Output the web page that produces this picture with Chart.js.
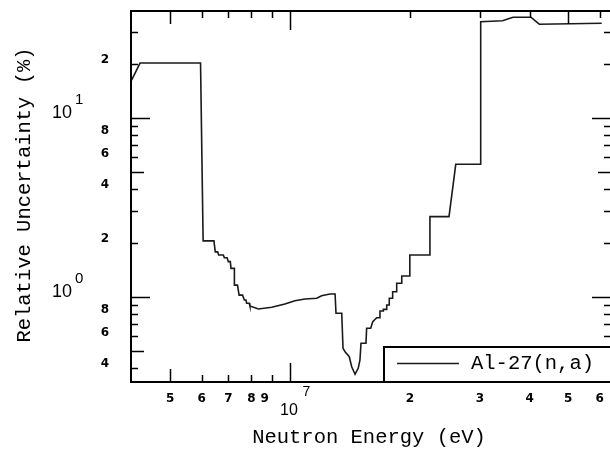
<!DOCTYPE html>
<html>
<head>
<meta charset="utf-8">
<script src="https://cdn.jsdelivr.net/npm/chart.js@4.4.0/dist/chart.umd.min.js"></script>
<style>
  html, body { margin: 0; padding: 0; background: #fff; overflow: hidden; }
  #wrap { width: 620px; height: 450px; }
</style>
</head>
<body>
<div id="wrap"><canvas id="chart" width="620" height="450"></canvas></div>
<script>
// Al-27(n,a) relative uncertainty
const seriesLabel = "Al-27(n,a)";
const energy = [
  4.0e6, 4.2e6, 5.96e6, 6.05e6, 6.44e6, 6.49e6, 6.58e6, 6.62e6, 6.8e6, 6.84e6,
  6.95e6, 7.0e6, 7.08e6, 7.11e6, 7.25e6, 7.25e6, 7.38e6, 7.45e6, 7.6e6, 7.68e6,
  7.75e6, 7.78e6, 7.9e6, 7.93e6, 8.33e6, 9.0e6, 9.71e6, 1.029e7, 1.091e7, 1.167e7,
  1.201e7, 1.26e7, 1.298e7, 1.305e7, 1.349e7, 1.359e7, 1.375e7, 1.409e7, 1.429e7, 1.457e7,
  1.484e7, 1.499e7, 1.508e7, 1.552e7, 1.558e7, 1.595e7, 1.614e7, 1.652e7, 1.683e7, 1.683e7,
  1.716e7, 1.716e7, 1.75e7, 1.75e7, 1.776e7, 1.776e7, 1.811e7, 1.811e7, 1.854e7, 1.854e7,
  1.909e7, 1.909e7, 2.0e7, 2.0e7, 2.247e7, 2.247e7, 2.509e7, 2.609e7, 3.014e7, 3.014e7,
  3.42e7, 3.633e7, 4.03e7, 4.23e7, 6.07e7
];
const uncertainty = [
  16.2, 20.2, 20.2, 2.05, 2.05, 1.78, 1.78, 1.71, 1.71, 1.65,
  1.65, 1.57, 1.57, 1.44, 1.44, 1.16, 1.16, 1.02, 1.02, 0.958,
  0.958, 0.919, 0.919, 0.887, 0.854, 0.873, 0.910, 0.950, 0.971, 0.980,
  1.013, 1.035, 1.035, 0.808, 0.808, 0.515, 0.493, 0.462, 0.406, 0.369,
  0.398, 0.443, 0.549, 0.549, 0.666, 0.666, 0.725, 0.763, 0.763, 0.832,
  0.832, 0.850, 0.850, 0.899, 0.899, 0.980, 0.980, 1.066, 1.066, 1.188,
  1.188, 1.305, 1.305, 1.71, 1.71, 2.80, 2.80, 5.49, 5.49, 34.4,
  34.8, 36.4, 36.4, 33.3, 33.7
];

const xTicks = [5e6, 6e6, 7e6, 8e6, 9e6, 1e7, 2e7, 3e7, 4e7, 5e7, 6e7];
const xTickLabels = ["5", "6", "7", "8", "9", "10^7", "2", "3", "4", "5", "6"];
const yTicks = [0.4, 0.5, 0.6, 0.7, 0.8, 0.9, 1, 2, 3, 4, 5, 6, 7, 8, 9, 10, 20, 30];
const yTickLabels = ["4", "", "6", "", "8", "", "10^0", "2", "", "4", "", "6", "", "8", "", "10^1", "2", ""];

const xMin = 3.986e6, xMax = 6.405e7;
const yMin = 0.3338, yMax = 39.45;

const TITLE_FONT = "20.5px 'Liberation Mono', monospace";
const DIGIT_FONT = "bold 12px 'DejaVu Sans', sans-serif";

function tickLen(v) {
  const m = Math.round(v / Math.pow(10, Math.floor(Math.log10(v) + 1e-9)));
  return m === 1 ? 19 : (m === 5 ? 13 : 7);
}

const framePlugin = {
  id: "frame",
  afterDatasetsDraw(chart) {
    const { ctx, chartArea: a, scales: { x, y } } = chart;
    ctx.save();
    ctx.strokeStyle = "#000";
    ctx.fillStyle = "#000";

    // ticks on all four sides, pointing inwards
    ctx.lineWidth = 1.5;
    ctx.beginPath();
    xTicks.forEach((v) => {
      const px = Math.round(x.getPixelForValue(v)) + 0.5;
      const len = tickLen(v);
      ctx.moveTo(px, a.bottom); ctx.lineTo(px, a.bottom - len);
      ctx.moveTo(px, a.top); ctx.lineTo(px, a.top + len);
    });
    yTicks.forEach((v) => {
      const py = Math.round(y.getPixelForValue(v)) + 0.5;
      const len = tickLen(v);
      ctx.moveTo(a.left, py); ctx.lineTo(a.left + len, py);
      ctx.moveTo(a.right, py); ctx.lineTo(a.right - len, py);
    });
    ctx.stroke();

    // legend box
    const ds = chart.data.datasets[0];
    ctx.fillStyle = "#fff";
    ctx.fillRect(384, 347, 240, a.bottom - 347);
    ctx.lineWidth = 2;
    ctx.strokeRect(384, 347, 240, a.bottom - 347);
    ctx.lineWidth = 1.6;
    ctx.strokeStyle = ds.borderColor;
    ctx.beginPath();
    ctx.moveTo(397, 363.5); ctx.lineTo(459, 363.5);
    ctx.stroke();
    ctx.fillStyle = "#000";
    ctx.font = TITLE_FONT;
    ctx.textAlign = "left";
    ctx.textBaseline = "middle";
    ctx.fillText(ds.label, 471, 364);

    // frame
    ctx.strokeStyle = "#000";
    ctx.lineWidth = 2;
    ctx.strokeRect(a.left, a.top, a.right - a.left, a.bottom - a.top);

    // x tick labels
    xTickLabels.forEach((lab, i) => {
      if (!lab) return;
      const px = x.getPixelForValue(xTicks[i]);
      if (lab.includes("^")) {
        const [base, exp] = lab.split("^");
        ctx.textAlign = "center";
        ctx.font = "16px 'Liberation Sans', Arial, sans-serif";
        ctx.fillText(base, px - 1, 411);
        ctx.font = "14px 'Liberation Sans', Arial, sans-serif";
        ctx.fillText(exp, px + 16.5, 392);
      } else {
        ctx.textAlign = "center";
        ctx.font = DIGIT_FONT;
        const nudge = (xTicks[i + 1] === 1e7) ? -7 : 0;
        ctx.fillText(lab, px + nudge, 399);
      }
    });

    // y tick labels
    yTickLabels.forEach((lab, i) => {
      if (!lab) return;
      const py = y.getPixelForValue(yTicks[i]);
      if (lab.includes("^")) {
        const [base, exp] = lab.split("^");
        ctx.textAlign = "right";
        ctx.font = "18px 'Liberation Sans', Arial, sans-serif";
        ctx.fillText(base, 72, py - 5);
        ctx.textAlign = "left";
        ctx.font = "15px 'Liberation Sans', Arial, sans-serif";
        ctx.fillText(exp, 75, py - 17.5);
      } else {
        ctx.textAlign = "right";
        ctx.font = DIGIT_FONT;
        ctx.fillText(lab, 109, py - 4);
      }
    });

    // axis titles
    ctx.font = TITLE_FONT;
    ctx.textAlign = "center";
    ctx.fillText("Neutron Energy (eV)", 369, 438);
    ctx.save();
    ctx.translate(25, 195);
    ctx.rotate(-Math.PI / 2);
    ctx.fillText("Relative Uncertainty (%)", 0, 0);
    ctx.restore();

    ctx.restore();
  }
};

new Chart(document.getElementById("chart"), {
  type: "line",
  data: {
    datasets: [{
      label: seriesLabel,
      data: energy.map((e, i) => ({ x: e, y: uncertainty[i] })),
      borderColor: "#1a1a1a",
      borderWidth: 1.6,
      pointRadius: 0,
      tension: 0,
      fill: false
    }]
  },
  options: {
    responsive: false,
    animation: false,
    devicePixelRatio: 1,
    layout: { padding: { left: 131, top: 11, right: 9, bottom: 68 } },
    plugins: { legend: { display: false }, tooltip: { enabled: false } },
    scales: {
      x: { type: "logarithmic", min: xMin, max: xMax, bounds: "data", display: false },
      y: { type: "logarithmic", min: yMin, max: yMax, bounds: "data", display: false }
    }
  },
  plugins: [framePlugin]
});
</script>
</body>
</html>
